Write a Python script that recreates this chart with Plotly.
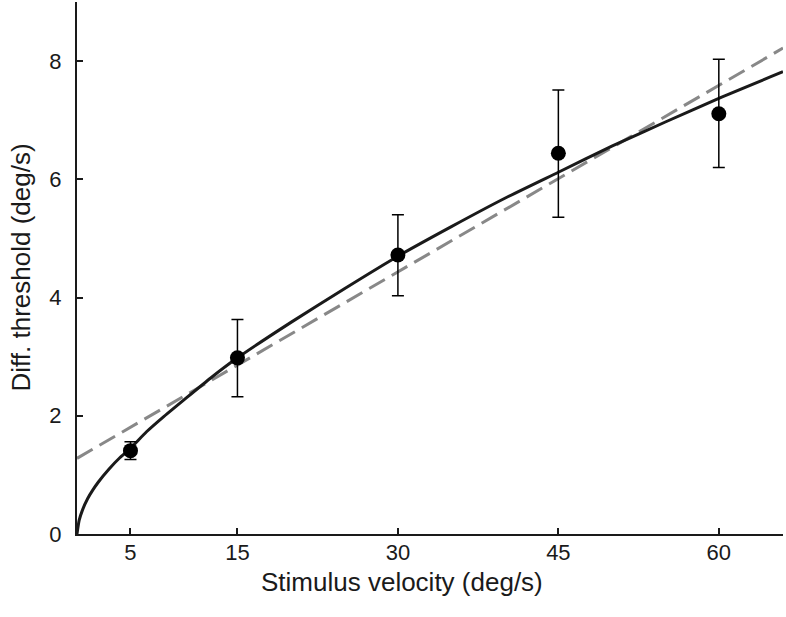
import plotly.graph_objects as go

# Data points (mean thresholds with error bars)
velocity = [5, 15, 30, 45, 60]
threshold = [1.41, 2.98, 4.72, 6.44, 7.11]
err_plus = [0.15, 0.65, 0.68, 1.07, 0.92]
err_minus = [0.15, 0.66, 0.69, 1.08, 0.91]

# Solid fitted curve
curve_x = [0, 0.2, 0.5, 1, 1.5, 2, 3, 4, 5, 6.5, 8, 10, 12.5, 15, 20, 25, 30,
           35, 40, 45, 50, 55, 60, 66]
curve_y = [0, 0.23, 0.40, 0.60, 0.75, 0.88, 1.10, 1.29, 1.45, 1.73, 1.97, 2.27,
           2.64, 2.98, 3.58, 4.15, 4.70, 5.20, 5.68, 6.12, 6.56, 6.97, 7.37, 7.82]

# Dashed linear fit, endpoints
line_x = [0, 66]
line_y = [1.28, 8.22]

x_ticks = [5, 15, 30, 45, 60]
y_ticks = [0, 2, 4, 6, 8]

FONT = "Liberation Sans, Arial, sans-serif"
INK = "#1a1a1a"

fig = go.Figure()

fig.add_trace(go.Scatter(
    x=line_x, y=line_y, mode="lines",
    line=dict(color="#888888", width=3, dash="18px,8px"),
    hoverinfo="skip", showlegend=False,
))

fig.add_trace(go.Scatter(
    x=curve_x, y=curve_y, mode="lines",
    line=dict(color=INK, width=3, shape="spline", smoothing=0.6),
    hoverinfo="skip", showlegend=False,
))

fig.add_trace(go.Scatter(
    x=velocity, y=threshold, mode="markers",
    marker=dict(color="black", size=15),
    error_y=dict(type="data", symmetric=False, array=err_plus, arrayminus=err_minus,
                 color="black", thickness=1.5, width=6),
    showlegend=False,
))

fig.update_layout(
    width=786, height=617,
    margin=dict(l=77, r=3, t=2, b=83),
    paper_bgcolor="white", plot_bgcolor="white",
    font=dict(family=FONT, color=INK, size=22),
    annotations=[
        dict(text="Stimulus velocity (deg/s)", xref="paper", yref="paper",
             x=0.46, y=-0.091, xanchor="center", yanchor="middle",
             showarrow=False, font=dict(size=26, color=INK)),
        dict(text="Diff. threshold (deg/s)", xref="paper", yref="paper",
             x=-0.08, y=0.5, xanchor="center", yanchor="middle", textangle=-90,
             showarrow=False, font=dict(size=26, color=INK)),
    ],
)

fig.update_xaxes(
    range=[0, 66], tickvals=x_ticks, ticktext=[str(t) for t in x_ticks],
    showgrid=False, zeroline=False, automargin=False,
    showline=True, linecolor=INK, linewidth=2,
    ticks="inside", ticklen=6, tickwidth=1.5, tickcolor=INK,
    tickfont=dict(size=22), ticklabelstandoff=-2,
)
fig.update_yaxes(
    range=[0, 9], tickvals=y_ticks, ticktext=[str(t) for t in y_ticks],
    showgrid=False, zeroline=False, automargin=False,
    showline=True, linecolor=INK, linewidth=2,
    ticks="inside", ticklen=6, tickwidth=1.5, tickcolor=INK,
    tickfont=dict(size=22), ticklabelstandoff=9,
)

fig.write_html(
    "out.html",
    config={"displayModeBar": False},
    post_script="document.body.style.margin='0';document.body.style.overflow='hidden';",
)
